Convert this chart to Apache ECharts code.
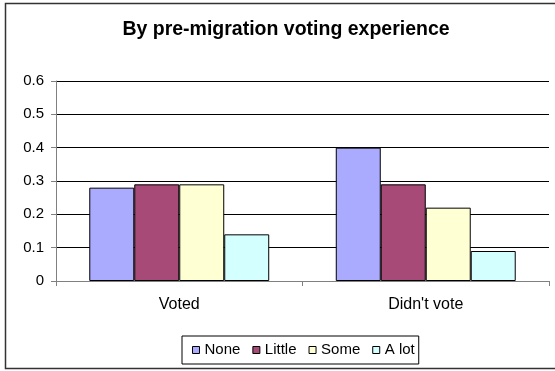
<!DOCTYPE html>
<html>
<head>
<meta charset="utf-8">
<script src="https://cdn.jsdelivr.net/npm/echarts@6/dist/echarts.min.js"></script>
<style>
html,body{margin:0;padding:0;background:#fff;}
#c{width:555px;height:371px;}
</style>
</head>
<body>
<div id="c"></div>
<script>
var categories = ["Voted", "Didn't vote"];
var seriesNames = ["None", "Little", "Some", "A lot"];
var noneVals = [0.28, 0.40];
var littleVals = [0.29, 0.29];
var someVals = [0.29, 0.22];
var alotVals = [0.14, 0.09];
var yTicks = [0, 0.1, 0.2, 0.3, 0.4, 0.5, 0.6];
var colors = ["#AAAAFF", "#A84A78", "#FFFFD4", "#D4FFFF"];

var values = [noneVals, littleVals, someVals, alotVals];
var font = "Liberation Sans, Arial, sans-serif";
var chart = echarts.init(document.getElementById('c'), null, {renderer: 'canvas'});
var series = seriesNames.map(function (n, i) {
  return {
    name: n, type: 'bar', data: values[i],
    barGap: '0%', barCategoryGap: '27%',
    itemStyle: {color: colors[i], borderColor: '#000', borderWidth: 1},
    emphasis: {disabled: true}
  };
});
chart.setOption({
  animation: false,
  textStyle: {fontFamily: font},
  graphic: [{
    type: 'rect', silent: true, z: -1,
    shape: {x: 5.5, y: 3.5, width: 560, height: 365},
    style: {fill: 'none', stroke: '#333', lineWidth: 1.5}
  }],
  title: {
    text: 'By pre-migration voting experience',
    left: 281, top: 15, textAlign: 'center',
    textStyle: {fontFamily: font, fontSize: 19.5, fontWeight: 'bold', color: '#000'}
  },
  legend: {
    data: seriesNames,
    left: 182, top: 336,
    padding: [6.5, 4, 6.5, 10],
    borderColor: '#000', borderWidth: 1,
    itemWidth: 7, itemHeight: 7, itemGap: 12,
    icon: 'rect',
    itemStyle: {borderColor: '#000', borderWidth: 1},
    textStyle: {fontFamily: font, fontSize: 15, color: '#000'},
    selectedMode: false
  },
  grid: {left: 56, right: 6, top: 81, bottom: 90, containLabel: false},
  xAxis: {
    type: 'category', data: categories,
    axisLine: {lineStyle: {color: '#808080', width: 1}},
    axisTick: {show: true, length: 5, lineStyle: {color: '#808080'}},
    axisLabel: {fontFamily: font, fontSize: 16, color: '#000', margin: 16}
  },
  yAxis: {
    type: 'value', min: 0, max: 0.6, interval: 0.1,
    axisLine: {show: true, lineStyle: {color: '#808080', width: 1}},
    axisTick: {show: true, length: 5, lineStyle: {color: '#808080'}},
    axisLabel: {fontFamily: font, fontSize: 15, color: '#000', margin: 12,
      formatter: function (v) { return String(+v.toFixed(1)); }},
    splitLine: {lineStyle: {color: '#000', width: 1}}
  },
  series: series
});
</script>
</body>
</html>
